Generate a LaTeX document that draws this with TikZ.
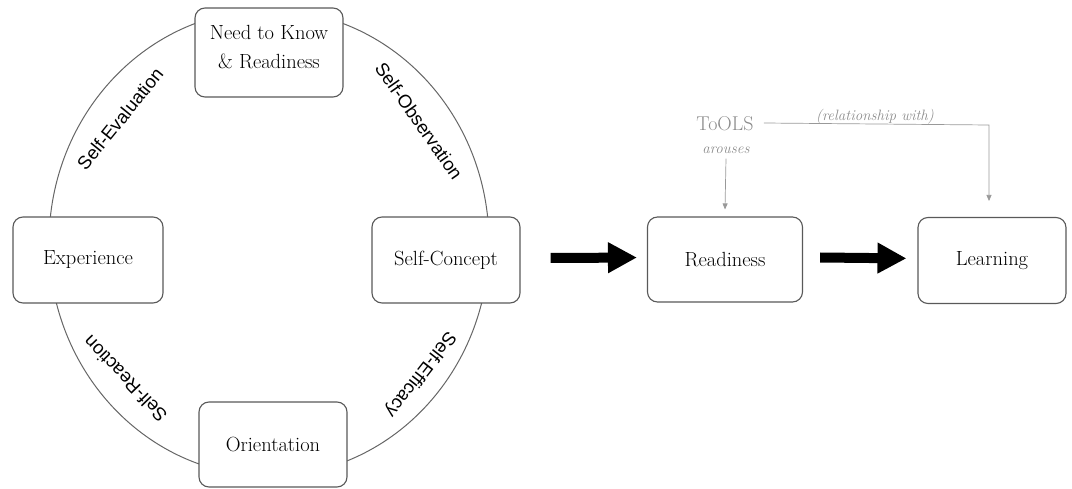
\documentclass[tikz,border=0pt]{standalone}
\usepackage{fontspec}
\setsansfont{Liberation Sans}
\usetikzlibrary{arrows.meta}
\begin{document}
\begin{tikzpicture}[x=1pt,y=-1pt,
  box/.style={draw=black!65, line width=1.1pt, rounded corners=10pt, fill=white,
    minimum width=148pt, minimum height=86pt, inner sep=0pt,
    font=\fontsize{20.5}{25}\selectfont, align=center},
  arclabel/.style={font=\sffamily\fontsize{18.5}{22}\selectfont, inner sep=0pt},
  bigarrow/.style={line width=10pt, -{Triangle[length=29pt,width=29pt]}},
  thin/.style={draw=black!40, line width=0.7pt, -{Triangle[length=6pt,width=5pt]}},
  note/.style={text=black!45, inner sep=0pt}
]
\useasboundingbox (0,0) rectangle (1072,489);
% cycle ring
\draw[black!60, line width=1pt] (269,243) ellipse [x radius=220, y radius=233];
% boxes on the ring
\node[box, minimum width=148pt, minimum height=89pt] (need) at (269,52.5) {};
\node[font=\fontsize{20.5}{29}\selectfont, align=center, inner sep=0pt] (needtxt) at (269,47) {Need to Know\\\& Readiness};
\node[box, minimum width=150pt] (exp) at (88,260) {Experience};
\node[box] (self) at (446,260) {Self-Concept};
\node[box, minimum height=85pt] (orient) at (273,444.5) {Orientation};
% arc labels
\node[arclabel, rotate=51] (seval) at (120,119) {Self-Evaluation};
\node[arclabel, rotate=-55] (sobs) at (419,121) {Self-Observation};
\node[arclabel, rotate=134] (sreact) at (125,379) {Self-Reaction};
\node[arclabel, rotate=-128] (seff) at (420,374) {Self-Efficacy};
% right part
\node[box, minimum width=155pt, minimum height=85pt] (ready) at (725,259.5) {Readiness};
\node[box] (learn) at (992,260.5) {Learning};
\draw[bigarrow, shorten >=10pt] ([xshift=30pt,yshift=2pt]self.east) -- ([yshift=2pt]ready.west);
\draw[bigarrow, shorten >=11pt] ([xshift=17pt,yshift=2pt]ready.east) -- ([yshift=2pt]learn.west);
% ToOLS
\node[note, font=\fontsize{20}{24}\selectfont] (tools) at (725,124) {ToOLS};
\node[note, font=\itshape\fontsize{15}{18}\selectfont] (arouses) at (726,150) {arouses};
\node[note, font=\itshape\fontsize{15}{18}\selectfont] (rel) at (875,117) {(relationship with)};
\draw[thin] ([yshift=-5pt]arouses.south) -- ([yshift=7pt]ready.north);
\coordinate (corner) at (989,125);
\coordinate (learntop) at (989,201);
\draw[thin] ([xshift=10pt,yshift=1pt]tools.east) -- (corner) -- (learntop);
\end{tikzpicture}
\end{document}
